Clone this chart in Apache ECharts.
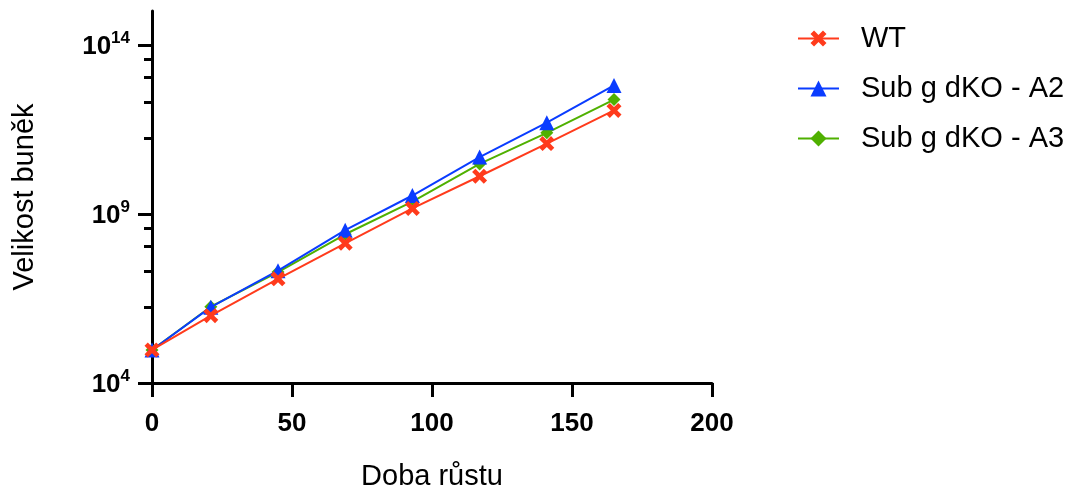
<!DOCTYPE html>
<html>
<head>
<meta charset="utf-8">
<script src="https://cdn.jsdelivr.net/npm/echarts@6/dist/echarts.min.js"></script>
<style>
html,body{margin:0;padding:0;background:#fff;}
#chart{width:1077px;height:490px;}
</style>
</head>
<body>
<div id="chart"></div>
<script>
// Data
const time = [0, 21, 45, 69, 93, 117, 141, 165];
const wt = [9.5e4, 9.8e5, 1.2e7, 1.35e8, 1.45e9, 1.3e10, 1.2e11, 1.15e12];
const a2 = [9.5e4, 1.75e6, 2.1e7, 3.3e8, 3.5e9, 4.8e10, 5.0e11, 6.3e12];
const a3 = [9.5e4, 1.8e6, 1.9e7, 2.5e8, 2.3e9, 3.0e10, 2.5e11, 2.4e12];
const seriesNames = ['WT', 'Sub g dKO - A2', 'Sub g dKO - A3'];
const yMajorTicks = [1e4, 1e9, 1e14];
const yMinorTicks = [1.7e6, 2.0e7, 1.1e8, 3.7e8, 1.7e11, 2.0e12, 1.1e13, 3.7e13];
const xTicks = [0, 50, 100, 150, 200];
const axisTitles = {x: 'Doba růstu', y: 'Velikost buněk'};

const FONT = 'Liberation Sans';
const RED = '#ff3b1c', BLUE = '#0a3cff', GREEN = '#4fb000';
const X_PATH = 'path://M0,2.2 L2.2,0 L5,2.8 L7.8,0 L10,2.2 L7.2,5 L10,7.8 L7.8,10 L5,7.2 L2.2,10 L0,7.8 L2.8,5 Z';

function pairs(ys) { return time.map((t, i) => [t, ys[i]]); }

const chart = echarts.init(document.getElementById('chart'), null, {renderer: 'canvas'});

const yCommon = {
  type: 'log', logBase: 10, min: 1e4, max: 1e15, position: 'left',
  splitLine: {show: false}, minorTick: {show: false}
};

chart.setOption({
  animation: false,
  backgroundColor: '#fff',
  textStyle: {fontFamily: FONT},
  grid: {left: 152, right: 365, top: 11, bottom: 107, containLabel: false, outerBoundsMode: 'none'},
  legend: {
    orient: 'vertical', left: 792, top: 19,
    itemWidth: 41, itemHeight: 20, itemGap: 21,
    data: seriesNames,
    textStyle: {fontFamily: FONT, fontSize: 29, color: '#000', padding: [0, 0, 0, 17]}
  },
  xAxis: {
    type: 'value', min: 0, max: 200, interval: 50,
    name: axisTitles.x, nameLocation: 'middle', nameGap: 79,
    nameTextStyle: {fontFamily: FONT, fontSize: 29, color: '#000'},
    axisLine: {show: true, onZero: false, lineStyle: {color: '#000', width: 3}},
    axisTick: {show: true, inside: false, length: 14, lineStyle: {color: '#000', width: 3}, customValues: xTicks},
    axisLabel: {fontFamily: FONT, fontSize: 26, fontWeight: 'bold', color: '#000', margin: 28, customValues: xTicks},
    splitLine: {show: false}
  },
  yAxis: [
    Object.assign({}, yCommon, {
      name: axisTitles.y, nameLocation: 'middle', nameGap: 113, nameRotate: 90,
      nameTextStyle: {fontFamily: FONT, fontSize: 29, color: '#000'},
      axisLine: {show: true, onZero: false, lineStyle: {color: '#000', width: 3}},
      axisTick: {show: true, length: 14, lineStyle: {color: '#000', width: 3}, customValues: yMajorTicks},
      axisLabel: {
        margin: 22, customValues: yMajorTicks,
        formatter: function (v) {
          const e = Math.round(Math.log10(v));
          return '{b|10}{s|' + e + '}';
        },
        rich: {
          b: {fontFamily: FONT, fontSize: 26, fontWeight: 'bold', color: '#000', verticalAlign: 'bottom'},
          s: {fontFamily: FONT, fontSize: 17, fontWeight: 'bold', color: '#000', verticalAlign: 'top', padding: [0, 0, 13, 0]}
        }
      }
    }),
    Object.assign({}, yCommon, {
      axisLine: {show: false},
      axisTick: {show: true, length: 8, lineStyle: {color: '#000', width: 3}, customValues: yMinorTicks},
      axisLabel: {show: false}
    })
  ],
  series: [
    {
      name: seriesNames[2], type: 'line', data: pairs(a3), yAxisIndex: 0, z: 2,
      symbol: 'diamond', symbolSize: 13, color: GREEN,
      lineStyle: {color: GREEN, width: 2}, itemStyle: {color: GREEN}
    },
    {
      name: seriesNames[1], type: 'line', data: pairs(a2), yAxisIndex: 0, z: 3,
      symbol: 'triangle', symbolSize: 15, color: BLUE,
      lineStyle: {color: BLUE, width: 2}, itemStyle: {color: BLUE}
    },
    {
      name: seriesNames[0], type: 'line', data: pairs(wt), yAxisIndex: 0, z: 4,
      symbol: X_PATH, symbolSize: 15, color: RED,
      lineStyle: {color: RED, width: 2}, itemStyle: {color: RED}
    }
  ]
});
</script>
</body>
</html>
